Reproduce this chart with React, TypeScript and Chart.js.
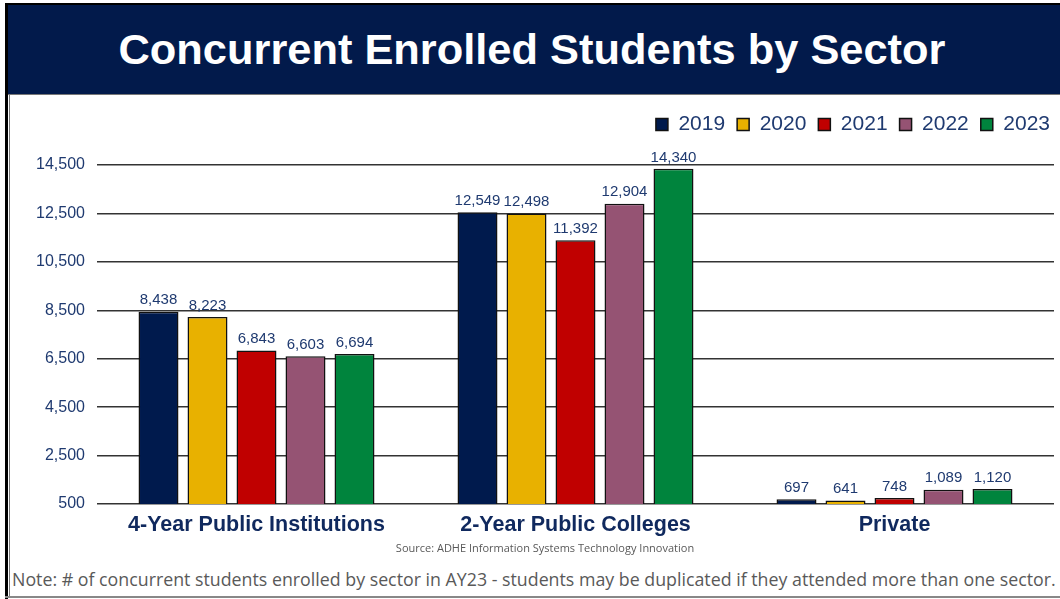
import React, { useEffect, useRef } from "react";
import { Chart, registerables } from "chart.js";

Chart.register(...registerables);

const categories = ["4-Year Public Institutions", "2-Year Public Colleges", "Private"];
const years = ["2019", "2020", "2021", "2022", "2023"];
const v2019 = [8438, 12549, 697];
const v2020 = [8223, 12498, 641];
const v2021 = [6843, 11392, 748];
const v2022 = [6603, 12904, 1089];
const v2023 = [6694, 14340, 1120];
const seriesValues = [v2019, v2020, v2021, v2022, v2023];
const seriesColors = ["#001A4D", "#E8B100", "#C00000", "#955373", "#00843D"];
const yMin = 500;
const yMax = 14500;
const yStep = 2000;

const NAVY_TEXT = "#1F3A70";
const fmt = (n: number) => n.toLocaleString("en-US");

const valueLabels = {
  id: "valueLabels",
  afterDatasetsDraw(chart: any) {
    const ctx = chart.ctx;
    ctx.save();
    ctx.font = "15px 'Liberation Sans', Arial, sans-serif";
    ctx.fillStyle = NAVY_TEXT;
    ctx.textAlign = "center";
    ctx.textBaseline = "bottom";
    chart.data.datasets.forEach((ds: any, i: number) => {
      const meta = chart.getDatasetMeta(i);
      meta.data.forEach((bar: any, j: number) => {
        ctx.fillText(fmt(ds.data[j]), bar.x, bar.y - 4);
      });
    });
    ctx.restore();
  },
};

const legendTweak = {
  id: "legendTweak",
  afterInit(chart: any) {
    const lg = chart.legend;
    if (!lg || lg.__patched) return;
    lg.__patched = true;
    const fit = lg.fit.bind(lg);
    lg.fit = () => {
      fit();
      lg.height += 22;
    };
    const draw = lg.draw.bind(lg);
    lg.draw = () => {
      chart.ctx.save();
      chart.ctx.translate(8, 2);
      draw();
      chart.ctx.restore();
    };
  },
};

function BarChart() {
  const ref = useRef<HTMLCanvasElement | null>(null);
  useEffect(() => {
    if (!ref.current) return;
    const chart = new Chart(ref.current, {
      type: "bar",
      data: {
        labels: categories,
        datasets: years.map((y, i) => ({
          label: y,
          data: seriesValues[i],
          backgroundColor: seriesColors[i],
          borderColor: "#111111",
          borderWidth: 1.5,
          borderSkipped: false,
          categoryPercentage: 0.768,
          barPercentage: 0.816,
        })),
      },
      options: {
        animation: false,
        responsive: false,
        maintainAspectRatio: false,
        layout: { padding: { left: 0, right: 12, top: 0, bottom: 0 } },
        plugins: {
          legend: {
            position: "top",
            align: "end",
            labels: {
              boxWidth: 12,
              boxHeight: 12,
              padding: 12,
              color: NAVY_TEXT,
              font: { size: 21, family: "'Liberation Sans', Arial, sans-serif" },
            },
          },
          tooltip: { enabled: false },
        },
        scales: {
          x: {
            grid: { display: false },
            border: { display: false },
            ticks: {
              color: "#10295E",
              padding: 0,
              font: { size: 21.5, weight: "bold", family: "'Liberation Sans', Arial, sans-serif" },
            },
            afterFit(scale: any) {
              scale.height = 41;
            },
          },
          y: {
            min: yMin,
            max: yMax,
            ticks: {
              stepSize: yStep,
              color: NAVY_TEXT,
              padding: 12,
              font: { size: 16, family: "'Liberation Sans', Arial, sans-serif" },
              callback: (v: any) => fmt(Number(v)),
            },
            grid: { color: "#333333", lineWidth: 1.5, drawTicks: false },
            border: { display: false },
            afterFit(scale: any) {
              scale.width = 87;
            },
          },
        },
      },
      plugins: [valueLabels, legendTweak],
    });
    return () => chart.destroy();
  }, []);
  return (
    <canvas
      ref={ref}
      width={1056}
      height={445}
      style={{ position: "absolute", left: 10, top: 100, width: 1056, height: 445 }}
    />
  );
}

export default function App() {
  return (
    <div
      style={{
        position: "fixed",
        left: 0,
        top: 0,
        width: 1060,
        height: 599,
        background: "#ffffff",
        overflow: "hidden",
        fontFamily: "'Liberation Sans', Arial, sans-serif",
      }}
    >
      <div style={{ position: "absolute", left: 5, top: 3, width: 1055, height: 2, background: "#000" }} />
      <div style={{ position: "absolute", left: 5, top: 3, width: 3, height: 596, background: "#000" }} />
      <div
        style={{
          position: "absolute",
          left: 8,
          top: 5,
          width: 1052,
          height: 89,
          background: "#021A4B",
          borderBottom: "1px solid #777",
          color: "#fff",
          display: "flex",
          alignItems: "center",
          justifyContent: "center",
          fontWeight: "bold",
          fontSize: 43.4,
        }}
      >
        <span style={{ position: "relative", left: -2 }}>Concurrent Enrolled Students by Sector</span>
      </div>
      <div style={{ position: "absolute", left: 9, top: 95, width: 1, height: 502, background: "#777" }} />
      <div style={{ position: "absolute", left: 5, top: 596, width: 1055, height: 2, background: "#888" }} />
      <BarChart />
      <div
        style={{
          position: "absolute",
          left: 0,
          width: 1090,
          top: 540,
          textAlign: "center",
          fontSize: 11,
          color: "#595959",
          fontFamily: "'Open Sans', sans-serif",
        }}
      >
        Source: ADHE Information Systems Technology Innovation
      </div>
      <div
        style={{
          position: "absolute",
          left: 12,
          top: 567,
          whiteSpace: "nowrap",
          fontSize: 17.8,
          color: "#595959",
          fontFamily: "'Open Sans', sans-serif",
        }}
      >
        Note: # of concurrent students enrolled by sector in AY23 - students may be duplicated if they attended more than one sector.
      </div>
    </div>
  );
}
